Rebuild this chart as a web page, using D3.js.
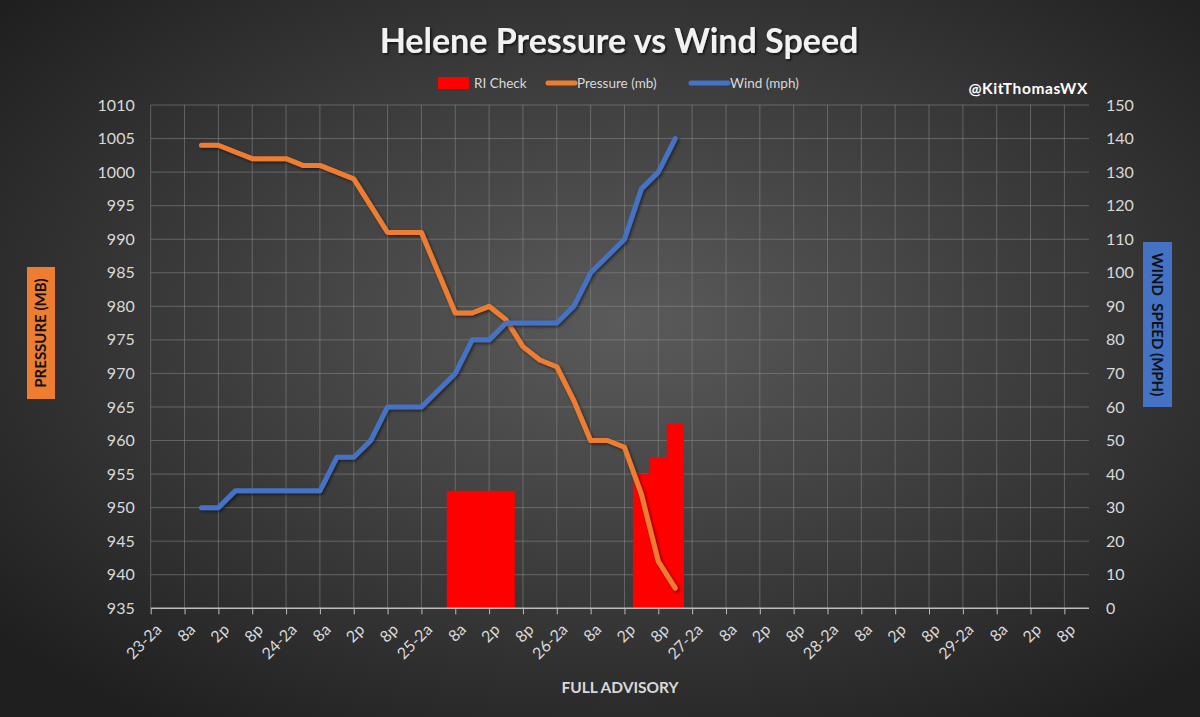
<!DOCTYPE html>
<html lang="en">
<head>
  <meta charset="UTF-8" />
  <title>Helene Pressure vs Wind Speed</title>
  <script src="https://d3js.org/d3.v7.min.js"></script>
  <style>
    * { margin: 0; padding: 0; box-sizing: border-box; }
    body { width: 1200px; height: 717px; overflow: hidden; background: #2a2a2a; }
    svg text { font-family: Lato, "Open Sans", sans-serif; }
  </style>
</head>
<body>
  <script>
    // categories: 3-hourly slots, 23rd 2a through 29th 11p
    const days = ['23', '24', '25', '26', '27', '28', '29'];
    const hours = ['2a', '5a', '8a', '11a', '2p', '5p', '8p', '11p'];
    const categories = [];
    days.forEach(d => hours.forEach(h => categories.push(d + '-' + h)));

    // tick labels shown on every other category
    const tickLabels = ['23-2a', '8a', '2p', '8p', '24-2a', '8a', '2p', '8p',
      '25-2a', '8a', '2p', '8p', '26-2a', '8a', '2p', '8p',
      '27-2a', '8a', '2p', '8p', '28-2a', '8a', '2p', '8p',
      '29-2a', '8a', '2p', '8p'];

    // advisory slots (23-11a .. 26-11p)
    const advisorySlots = categories.slice(3, 32);
    const pressure = [1004, 1004, 1003, 1002, 1002, 1002, 1001, 1001, 1000, 999, 995, 991, 991, 991, 985,
      979, 979, 980, 978, 974, 972, 971, 966, 960, 960, 959, 952, 942, 938];
    const wind = [30, 30, 35, 35, 35, 35, 35, 35, 45, 45, 50, 60, 60, 60, 65,
      70, 80, 80, 85, 85, 85, 85, 90, 100, 105, 110, 125, 130, 140];

    // RI check (24h wind gain) bars
    const riSlots = ['25-8a', '25-11a', '25-2p', '25-5p', '26-5p', '26-8p', '26-11p'];
    const riCheck = [35, 35, 35, 35, 40, 45, 55];

    const pressureTicks = d3.range(935, 1011, 5);
    const windTicks = d3.range(0, 151, 10);

    const [w, h] = [1200, 717];
    const plotLeft = 150.7, plotTop = 105, plotBottom = 608.3, plotRight = 1089;
    const step = 16.92;

    const svg = d3.select('body').append('svg')
      .attr('width', w)
      .attr('height', h);

    const defs = svg.append('defs');
    const grad = defs.append('radialGradient')
      .attr('id', 'bg')
      .attr('cx', '52%').attr('cy', '45%').attr('r', '68%');
    grad.append('stop').attr('offset', '0%').attr('stop-color', '#5b5b5b');
    grad.append('stop').attr('offset', '100%').attr('stop-color', '#1f1f1f');

    const shadow = defs.append('filter').attr('id', 'shadow')
      .attr('x', '-10%').attr('y', '-10%').attr('width', '120%').attr('height', '120%');
    shadow.append('feDropShadow')
      .attr('dx', 1.5).attr('dy', 1.5).attr('stdDeviation', 1.5)
      .attr('flood-color', '#000').attr('flood-opacity', 0.55);

    const tshadow = defs.append('filter').attr('id', 'tshadow');
    tshadow.append('feDropShadow')
      .attr('dx', 1.5).attr('dy', 1.5).attr('stdDeviation', 1)
      .attr('flood-color', '#000').attr('flood-opacity', 0.7);

    svg.append('rect').attr('width', w).attr('height', h).attr('fill', 'url(#bg)');

    // scales
    const x = d3.scalePoint()
      .domain(categories)
      .range([plotLeft, plotLeft + step * (categories.length - 1)]);
    const yP = d3.scaleLinear().domain([935, 1010]).range([plotBottom, plotTop]);
    const yW = d3.scaleLinear().domain([0, 150]).range([plotBottom, plotTop]);

    const tickCats = categories.filter((d, i) => i % 2 === 0);

    // gridlines
    const grid = svg.append('g').attr('stroke', '#8a8a8a').attr('stroke-opacity', 0.55).attr('stroke-width', 1);
    grid.selectAll('.hg').data(pressureTicks.slice(1)).join('line')
      .attr('x1', plotLeft).attr('x2', plotRight)
      .attr('y1', d => yP(d)).attr('y2', d => yP(d));
    grid.selectAll('.vg').data(tickCats).join('line')
      .attr('x1', d => x(d)).attr('x2', d => x(d))
      .attr('y1', plotTop).attr('y2', plotBottom);

    // RI check bars (right axis)
    svg.append('g').selectAll('rect')
      .data(riSlots.map((s, i) => ({ slot: s, v: riCheck[i] })))
      .join('rect')
      .attr('x', d => x(d.slot) - step / 2)
      .attr('width', step + 0.3)
      .attr('y', d => yW(d.v))
      .attr('height', d => plotBottom - yW(d.v))
      .attr('fill', '#ff0000');

    // x axis
    const xAxis = d3.axisBottom(x)
      .tickValues(tickCats)
      .tickSize(6)
      .tickFormat((d, i) => tickLabels[i]);
    const gx = svg.append('g')
      .attr('transform', `translate(0, ${plotBottom})`)
      .call(xAxis);
    gx.select('.domain').remove();
    gx.append('line').attr('x1', plotLeft).attr('x2', plotRight)
      .attr('stroke', '#bdbdbd').attr('stroke-width', 1.5);
    gx.selectAll('.tick line').attr('stroke', '#bdbdbd');
    gx.selectAll('.tick text')
      .attr('fill', '#d9d9d9')
      .style('font-size', '16px')
      .attr('text-anchor', 'end')
      .attr('dy', 0)
      .attr('transform', 'translate(5, 16) rotate(-45)');

    // left axis
    const gl = svg.append('g')
      .attr('transform', `translate(${plotLeft - 16}, 0)`)
      .call(d3.axisLeft(yP).tickValues(pressureTicks).tickFormat(d3.format('d')).tickSize(0));
    gl.select('.domain').remove();
    gl.selectAll('text').attr('fill', '#d9d9d9').style('font-size', '16px').attr('x', 0);

    // right axis
    const gr = svg.append('g')
      .attr('transform', `translate(${plotRight + 17}, 0)`)
      .call(d3.axisRight(yW).tickValues(windTicks).tickSize(0));
    gr.select('.domain').remove();
    gr.selectAll('text').attr('fill', '#d9d9d9').style('font-size', '16px').attr('x', 0);

    // lines
    const lineP = d3.line().x((d, i) => x(advisorySlots[i])).y(d => yP(d));
    const lineW = d3.line().x((d, i) => x(advisorySlots[i])).y(d => yW(d));

    svg.append('path').datum(pressure)
      .attr('d', lineP)
      .attr('fill', 'none')
      .attr('stroke', '#ed7d31')
      .attr('stroke-width', 5)
      .attr('stroke-linejoin', 'round')
      .attr('stroke-linecap', 'round')
      .attr('filter', 'url(#shadow)');

    svg.append('path').datum(wind)
      .attr('d', lineW)
      .attr('fill', 'none')
      .attr('stroke', '#4472c4')
      .attr('stroke-width', 5)
      .attr('stroke-linejoin', 'round')
      .attr('stroke-linecap', 'round')
      .attr('filter', 'url(#shadow)');

    // title
    svg.append('text')
      .attr('x', 619).attr('y', 53)
      .attr('text-anchor', 'middle')
      .attr('fill', '#f2f2f2')
      .attr('filter', 'url(#tshadow)')
      .style('font-size', '34px')
      .style('font-weight', 'bold')
      .text('Helene Pressure vs Wind Speed');

    // legend
    const legend = svg.append('g').attr('transform', 'translate(0, 83)');
    legend.append('rect').attr('x', 438).attr('y', -6).attr('width', 31).attr('height', 12).attr('fill', '#ff0000');
    legend.append('text').attr('x', 474).attr('y', 5).text('RI Check');
    legend.append('line').attr('x1', 548).attr('x2', 575).attr('stroke', '#ed7d31')
      .attr('stroke-width', 5).attr('stroke-linecap', 'round');
    legend.append('text').attr('x', 577).attr('y', 5).text('Pressure (mb)');
    legend.append('line').attr('x1', 691).attr('x2', 728).attr('stroke', '#4472c4')
      .attr('stroke-width', 5).attr('stroke-linecap', 'round');
    legend.append('text').attr('x', 730).attr('y', 5).text('Wind (mph)');
    legend.selectAll('text').attr('fill', '#d9d9d9').style('font-size', '13.5px');

    svg.append('text')
      .attr('x', 1088).attr('y', 94)
      .attr('text-anchor', 'end')
      .attr('fill', '#ffffff')
      .style('font-size', '15.5px')
      .style('font-weight', 'bold')
      .style('letter-spacing', '0.6px')
      .text('@KitThomasWX');

    // axis titles
    svg.append('rect').attr('x', 27).attr('y', 267).attr('width', 28).attr('height', 132).attr('fill', '#ed7d31');
    svg.append('text')
      .attr('transform', 'translate(46, 333) rotate(-90)')
      .attr('text-anchor', 'middle')
      .attr('fill', '#111')
      .style('font-size', '15px')
      .style('font-weight', 'bold')
      .text('PRESSURE (MB)');

    svg.append('rect').attr('x', 1143).attr('y', 242).attr('width', 29).attr('height', 165).attr('fill', '#4472c4');
    svg.append('text')
      .attr('transform', 'translate(1152, 324.5) rotate(90)')
      .attr('text-anchor', 'middle')
      .attr('fill', '#111')
      .style('font-size', '15px')
      .style('font-weight', 'bold')
      .style('white-space', 'pre')
      .text('WIND  SPEED (MPH)');

    svg.append('text')
      .attr('x', 620).attr('y', 693)
      .attr('text-anchor', 'middle')
      .attr('fill', '#d9d9d9')
      .style('font-size', '15.5px')
      .style('font-weight', 'bold')
      .text('FULL ADVISORY');
  </script>
</body>
</html>
